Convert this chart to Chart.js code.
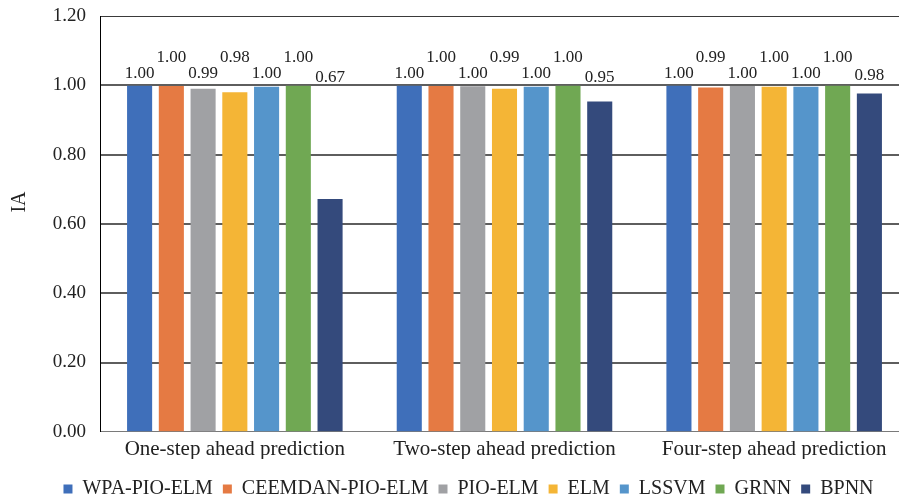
<!DOCTYPE html>
<html>
<head>
<meta charset="utf-8">
<script src="https://cdn.jsdelivr.net/npm/chart.js@4/dist/chart.umd.min.js"></script>
<style>
  html, body { margin: 0; padding: 0; background: #ffffff; overflow: hidden; }
  #wrap { position: relative; width: 909px; height: 500px; }
</style>
</head>
<body>
<div id="wrap"><canvas id="chart"></canvas></div>
<script>
// Categories, series names and IA values per forecasting horizon
const categories = ['One-step ahead prediction', 'Two-step ahead prediction', 'Four-step ahead prediction'];
const seriesNames = ['WPA-PIO-ELM', 'CEEMDAN-PIO-ELM', 'PIO-ELM', 'ELM', 'LSSVM', 'GRNN', 'BPNN'];

const wpaPioElm     = [0.999, 0.999, 0.999];
const ceemdanPioElm = [0.998, 0.998, 0.994];
const pioElm        = [0.990, 0.997, 0.998];
const elm           = [0.980, 0.990, 0.996];
const lssvm         = [0.996, 0.996, 0.996];
const grnn          = [0.999, 0.999, 0.999];
const bpnn          = [0.672, 0.953, 0.976];

const yTicks = [0.00, 0.20, 0.40, 0.60, 0.80, 1.00, 1.20];
const yTitle = 'IA';

const seriesColors = ['#3F6FBA', '#E57A43', '#A0A1A4', '#F4B536', '#5595CB', '#70A853', '#344A7C'];
const seriesValues = [wpaPioElm, ceemdanPioElm, pioElm, elm, lssvm, grnn, bpnn];

const SERIF = '"Liberation Serif", "Times New Roman", serif';
const TEXT = '#222222';

// Value labels above each bar, staggered in two rows so neighbours do not collide
const valueLabels = {
  id: 'valueLabels',
  afterDatasetsDraw(chart) {
    const { ctx } = chart;
    const yScale = chart.scales.y;
    const ref = yScale.getPixelForValue(1);
    const last = chart.data.datasets.length - 1;
    ctx.save();
    ctx.font = '17px ' + SERIF;
    ctx.fillStyle = TEXT;
    ctx.textAlign = 'center';
    ctx.textBaseline = 'middle';
    chart.data.datasets.forEach((ds, i) => {
      chart.getDatasetMeta(i).data.forEach((bar, j) => {
        const v = ds.data[j];
        let ly;
        if (i === last) ly = Math.min(bar.y - 18, ref - 8);
        else ly = (i % 2 === 0) ? ref - 12 : ref - 28;
        ctx.fillText(v.toFixed(2), bar.x, ly);
      });
    });
    ctx.restore();
  }
};

// Rotated axis title on the left
const axisTitle = {
  id: 'axisTitle',
  afterDraw(chart) {
    const { ctx } = chart;
    ctx.save();
    ctx.font = '20px ' + SERIF;
    ctx.fillStyle = TEXT;
    ctx.textAlign = 'center';
    ctx.textBaseline = 'middle';
    ctx.translate(20, 202);
    ctx.rotate(-Math.PI / 2);
    ctx.fillText(yTitle, 0, 0);
    ctx.restore();
  }
};

// Nudge the legend row
const legendShift = {
  id: 'legendShift',
  afterLayout(chart) {
    const lg = chart.legend;
    if (!lg) return;
    lg.left += 14; lg.right += 14;
    lg.top += 10; lg.bottom += 10;
  }
};

new Chart(document.getElementById('chart'), {
  type: 'bar',
  data: {
    labels: categories,
    datasets: seriesNames.map((name, i) => ({
      label: name,
      data: seriesValues[i],
      backgroundColor: seriesColors[i],
      borderWidth: 0,
      categoryPercentage: 0.824,
      barPercentage: 0.79
    }))
  },
  options: {
    responsive: true,
    maintainAspectRatio: false,
    animation: false,
    devicePixelRatio: 1,
    layout: { padding: { top: 16, right: 0, bottom: 1, left: 0 } },
    plugins: {
      legend: {
        position: 'bottom',
        labels: {
          font: { family: SERIF, size: 20 },
          color: TEXT,
          boxWidth: 9,
          boxHeight: 9,
          padding: 10
        }
      },
      tooltip: { enabled: false },
      title: { display: false }
    },
    scales: {
      x: {
        grid: { display: false },
        border: { display: true, color: '#7a7a7a', width: 1 },
        ticks: {
          font: { family: SERIF, size: 21 },
          color: TEXT,
          padding: -3,
          maxRotation: 0
        }
      },
      y: {
        min: 0,
        max: 1.2,
        afterBuildTicks(scale) {
          scale.ticks = yTicks.map(v => ({ value: v }));
        },
        afterFit(scale) {
          scale.width = 100;
          scale.paddingTop = 0;
          scale.paddingBottom = 0;
        },
        border: { display: true, color: '#000000', width: 1 },
        grid: {
          drawTicks: false,
          color(c) {
            const v = c.tick ? c.tick.value : 0;
            if (v === 0) return 'rgba(0,0,0,0)';
            if (v >= 1.2) return '#3a3a3a';
            return '#5e5e5e';
          },
          lineWidth(c) {
            const v = c.tick ? c.tick.value : 0;
            return (v > 0 && v < 1.2) ? 2 : 1;
          }
        },
        ticks: {
          font: { family: SERIF, size: 19 },
          color: TEXT,
          padding: 14,
          callback: v => Number(v).toFixed(2)
        }
      }
    }
  },
  plugins: [valueLabels, axisTitle, legendShift]
});
</script>
</body>
</html>
